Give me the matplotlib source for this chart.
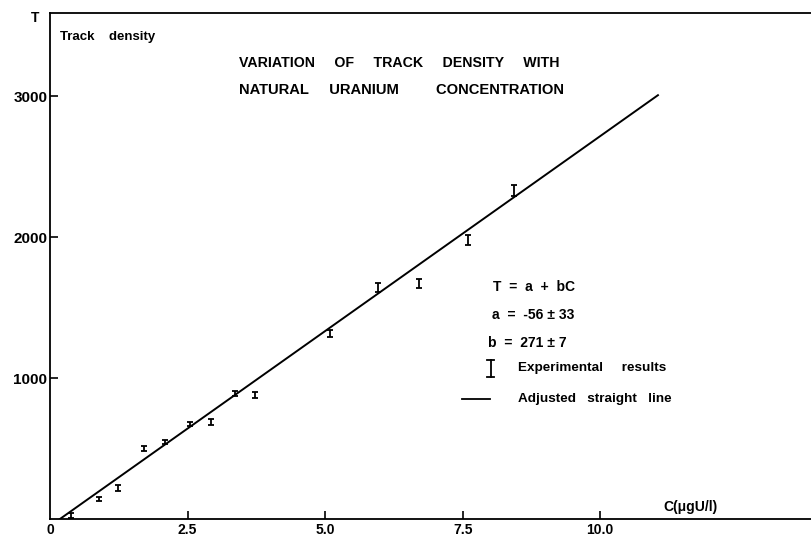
import matplotlib
matplotlib.use("Agg")
import matplotlib.pyplot as plt

# --------------------------------
# TRACK DENSITY vs URANIUM CONCENTRATION
# --------------------------------

conc = [0.38, 0.89, 1.24, 1.70, 2.09, 2.55, 2.93, 3.36, 3.73, 5.08, 5.97, 6.71, 7.59, 8.44]
density = [25, 142, 222, 501, 548, 672, 690, 891, 879, 1317, 1643, 1671, 1979, 2333]
errors = [15, 15, 22, 15, 15, 15, 20, 20, 20, 25, 35, 35, 38, 40]

# adjusted straight line, ends as drawn in the figure
fit_c = [0.18, 11.05]
fit_t = [0, 3007]

x_ticks = [0, 2.5, 5.0, 7.5, 10.0]
x_tick_labels = ["0", "2.5", "5.0", "7.5", "10.0"]
y_ticks = [1000, 2000, 3000]
y_tick_labels = ["1000", "2000", "3000"]

plt.rcParams["font.family"] = ["Liberation Sans", "DejaVu Sans"]
plt.rcParams["font.weight"] = "bold"

fig = plt.figure(figsize=(8.12, 5.37), dpi=100)
ax = fig.add_axes([0.0616, 0.0335, 0.9384, 0.942])

ax.plot(fit_c, fit_t, color="black", linewidth=1.4)
ax.errorbar(conc, density, yerr=errors, fmt="none", ecolor="black",
            elinewidth=1.3, capsize=2, capthick=1.3)

ax.set_xlim(0, 13.85)
ax.set_ylim(0, 3589)
ax.set_xticks(x_ticks)
ax.set_xticklabels(x_tick_labels, fontsize=10)
ax.set_yticks(y_ticks)
ax.set_yticklabels(y_tick_labels, fontsize=11)
ax.tick_params(axis="both", direction="in", length=5.5, width=1.2, color="black")
ax.tick_params(axis="x", pad=3)
ax.tick_params(axis="y", pad=2)
ax.xaxis.get_major_ticks()[0].tick1line.set_visible(False)

ax.spines["right"].set_visible(False)
for s in ["left", "top", "bottom"]:
    ax.spines[s].set_linewidth(1.3)

fig.text(0.043, 0.966, "T", fontsize=10, ha="center", va="center")
ax.text(0.0131, 0.9526, "Track    density", transform=ax.transAxes, fontsize=9.5,
        ha="left", va="center")
ax.text(0.8045, 0.0237, "C(\u03bcgU/l)", transform=ax.transAxes, fontsize=10,
        ha="left", va="center")

ax.text(0.248, 0.901, "VARIATION     OF     TRACK     DENSITY     WITH",
        transform=ax.transAxes, fontsize=10.2, ha="left", va="center")
ax.text(0.248, 0.848, "NATURAL     URANIUM         CONCENTRATION",
        transform=ax.transAxes, fontsize=10.6, ha="left", va="center")

ax.text(0.5814, 0.4585, "T  =  a  +  bC", transform=ax.transAxes, fontsize=10, ha="left", va="center")
ax.text(0.580, 0.4032, "a  =  -56 \u00b1 33", transform=ax.transAxes, fontsize=10, ha="left", va="center")
ax.text(0.5748, 0.3478, "b  =  271 \u00b1 7", transform=ax.transAxes, fontsize=10, ha="left", va="center")

# legend keys drawn by hand to keep the original placement
kx, ky, kh, kw = 0.5787, 0.2984, 0.0168, 0.0046
ax.plot([kx, kx], [ky - kh, ky + kh], color="black", linewidth=1.3, transform=ax.transAxes)
ax.plot([kx - kw, kx + kw], [ky + kh, ky + kh], color="black", linewidth=1.3, transform=ax.transAxes)
ax.plot([kx - kw, kx + kw], [ky - kh, ky - kh], color="black", linewidth=1.3, transform=ax.transAxes)
ax.plot([0.5407, 0.5774], [0.2372, 0.2372], color="black", linewidth=1.3, transform=ax.transAxes)
ax.text(0.6142, 0.2984, "Experimental     results", transform=ax.transAxes, fontsize=9.7,
        ha="left", va="center")
ax.text(0.6142, 0.2372, "Adjusted   straight   line", transform=ax.transAxes, fontsize=9.7,
        ha="left", va="center")

fig.savefig("out.png", dpi=100)
